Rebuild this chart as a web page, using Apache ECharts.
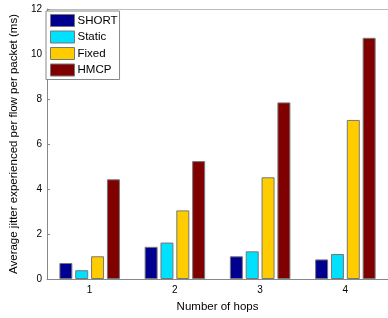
<!DOCTYPE html>
<html>
<head>
<meta charset="utf-8">
<script src="https://cdn.jsdelivr.net/npm/echarts@6/dist/echarts.min.js"></script>
<style>
  html, body { margin: 0; padding: 0; background: #fff; }
  #chart { width: 388px; height: 318px; }
</style>
</head>
<body>
<div id="chart"></div>
<script>
// 数据
const hops = ['1', '2', '3', '4']
const shortVals = [0.71, 1.43, 1.01, 0.87]
const staticVals = [0.39, 1.62, 1.23, 1.11]
const fixedVals = [1.01, 3.05, 4.52, 7.07]
const hmcpVals = [4.43, 5.24, 7.85, 10.72]

const font = 'Liberation Sans, Arial, sans-serif'

const chart = echarts.init(document.getElementById('chart'))

function bar(name, data, color) {
  return {
    name: name,
    type: 'bar',
    data: data,
    barGap: '22%',
    barCategoryGap: '29%',
    itemStyle: { color: color, borderColor: '#777', borderWidth: 1 }
  }
}

chart.setOption({
  animation: false,
  textStyle: { fontFamily: font },
  grid: { left: 43, right: -7, top: 9, bottom: 32 },
  legend: {
    orient: 'vertical',
    left: 46,
    top: 11,
    icon: 'rect',
    itemWidth: 24,
    itemHeight: 12,
    itemGap: 3.5,
    padding: [3, 2, 3, 4],
    borderColor: '#888',
    borderWidth: 1,
    borderRadius: 0,
    backgroundColor: '#fff',
    textStyle: { fontSize: 11.5, color: '#000', padding: [0, 0, 0, -2] },
    itemStyle: { borderColor: '#777', borderWidth: 1 }
  },
  xAxis: [{
    type: 'category',
    data: hops,
    name: 'Number of hops',
    nameLocation: 'middle',
    nameGap: 22,
    nameTextStyle: { fontSize: 11.5, color: '#000' },
    axisLine: { lineStyle: { color: '#888' } },
    axisTick: { inside: true, alignWithLabel: true, length: 3, lineStyle: { color: '#888' } },
    axisLabel: { fontSize: 10, color: '#000', margin: 6 }
  }, {
    type: 'category',
    data: hops,
    position: 'top',
    axisLine: { lineStyle: { color: '#bbb' } },
    axisTick: { inside: true, alignWithLabel: true, length: 3, lineStyle: { color: '#888' } },
    axisLabel: { show: false }
  }],
  yAxis: {
    type: 'value',
    min: 0,
    max: 12,
    interval: 2,
    name: 'Average jitter experienced per flow per packet (ms)',
    nameLocation: 'middle',
    nameGap: 25,
    nameTextStyle: { fontSize: 11.5, color: '#000' },
    axisLine: { show: true, lineStyle: { color: '#888' } },
    axisTick: { show: true, inside: true, length: 3, lineStyle: { color: '#888' } },
    axisLabel: { fontSize: 10, color: '#000', margin: 5 },
    splitLine: { show: false }
  },
  series: [
    bar('SHORT', shortVals, '#000090'),
    bar('Static', staticVals, '#00E0FF'),
    bar('Fixed', fixedVals, '#FFCC00'),
    bar('HMCP', hmcpVals, '#800000')
  ]
})
</script>
</body>
</html>
